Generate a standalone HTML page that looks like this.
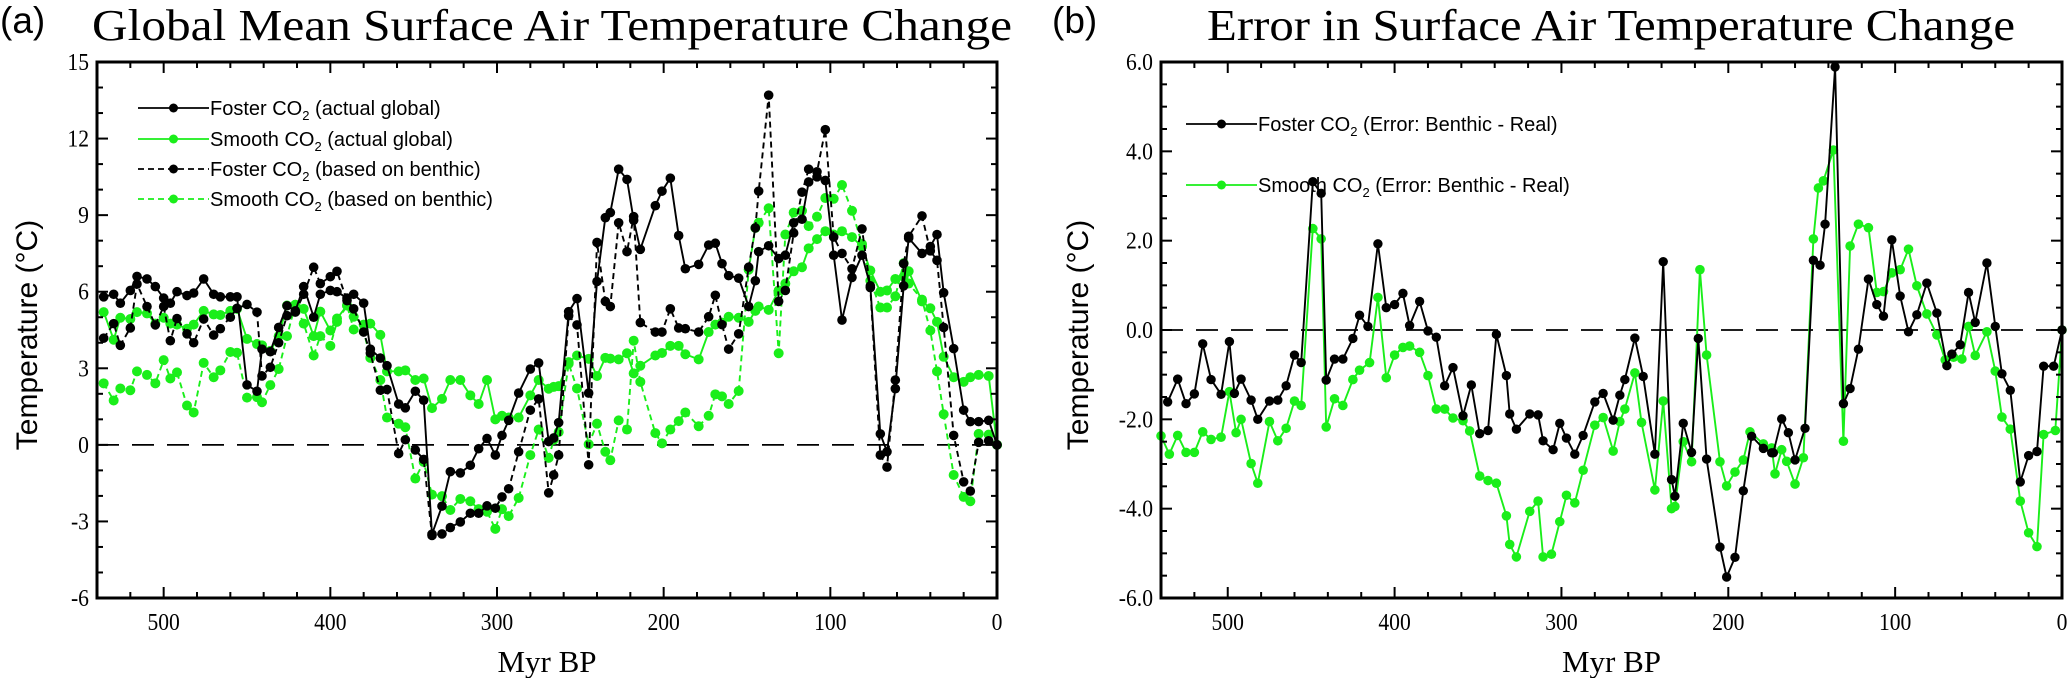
<!DOCTYPE html>
<html><head><meta charset="utf-8"><style>
html,body{margin:0;padding:0;background:#fff;}
svg{display:block;}
</style></head><body>
<svg id="fig" width="2067" height="678" xmlns="http://www.w3.org/2000/svg"></svg>
<script>
// ---------- Panel (a) data ----------
const agesA = [536,530,526,520,516,510,505,500,496,492,486,482,476,470,466,460,456,450,444,441,436,431,426,421,416,410,406,400,396,390,386,380,376,370,366,359,355,
349,344,339,333,328,322,316,311,306,301,297,293,287,280,275,269,266,263,257,252,245,240,235,232,227,222,218,214,205,201,196,191,187,179,173,
169,165,161,155,149,145,143,137,131,127,122,117,113,108,103,98,93,87,81,76,70,66,61,56,53,45,40,36,32,26,20,16,11,5,0];
const fosterActual = [5.8,5.9,5.55,6.05,6.6,6.5,6.2,5.75,5.55,6.0,5.85,5.95,6.5,5.9,5.8,5.8,5.8,2.35,2.1,3.75,3.65,4.6,5.45,5.25,6.2,5.0,5.9,6.05,6.0,5.75,5.9,5.55,3.75,3.4,3.1,1.6,1.45,
2.1,1.75,-3.5,-2.4,-1.05,-1.1,-0.8,-0.15,0.25,-0.4,0.37,0.96,2.03,2.97,3.21,0.13,0.27,0.87,5.22,5.73,2.03,6.4,8.9,9.1,10.8,10.4,8.8,7.66,9.37,9.94,10.45,8.2,6.9,7.07,7.83,
7.9,7.1,6.63,6.53,5.42,6.43,7.57,7.8,7.3,7.43,8.7,8.84,10.3,10.5,10.36,7.43,4.89,6.56,7.43,6.23,0.43,-0.27,2.2,6.23,8.1,7.5,7.77,8.24,5.96,3.77,1.36,0.91,0.91,0.96,0];
const smoothActual = [5.2,4.12,4.98,4.93,5.2,5.15,4.75,4.98,4.75,4.71,4.55,4.71,5.25,5.11,5.09,5.25,5.33,4.15,3.95,3.9,3.68,4.26,5.46,5.49,5.33,4.26,5.22,4.48,4.95,5.46,5.02,4.71,4.75,4.31,2.88,2.88,2.92,
2.54,2.6,1.44,1.8,2.54,2.54,1.94,1.6,2.54,1.0,1.14,1.07,1.07,1.94,2.54,2.2,2.27,2.3,3.24,3.5,3.37,2.7,3.41,3.38,3.35,3.59,2.8,3.1,3.5,3.6,3.88,3.88,3.55,3.35,4.42,
4.71,4.79,5.02,4.98,4.82,5.25,5.42,5.29,6.05,6.32,6.8,6.96,7.7,8.06,8.37,8.24,8.37,8.14,7.77,6.83,6.0,6.05,6.5,6.59,6.8,5.62,5.35,4.82,3.45,2.65,2.47,2.65,2.74,2.7,0];
const fosterBenthic = [4.18,4.75,3.9,4.58,6.3,5.42,4.7,5.42,4.08,4.95,4.35,4.0,4.93,4.3,4.55,5.0,5.35,5.5,5.2,2.7,3.04,4.0,5.06,5.2,5.9,6.96,6.32,6.59,6.8,5.65,5.33,4.42,3.6,2.14,2.17,-0.34,0.2,
-0.2,-0.57,-3.55,-3.49,-3.24,-3.02,-2.68,-2.68,-2.39,-2.48,-2.04,-1.72,-0.27,1.36,1.8,-1.88,-1.18,-0.4,5.06,4.7,-0.78,7.93,5.62,5.42,8.7,7.57,8.94,4.79,4.42,4.42,5.33,4.58,4.55,4.42,5.02,
5.86,4.71,3.75,4.35,6.96,8.5,9.94,13.7,5.62,6.05,8.3,9.9,10.8,10.7,12.35,8.14,7.5,6.9,8.46,6.16,-0.4,-0.87,2.54,7.1,8.17,8.97,7.6,7.23,4.6,0.37,-1.45,-1.81,0.1,0.16,0];
const smoothBenthic = [2.41,1.74,2.21,2.14,2.88,2.74,2.41,3.32,2.6,2.84,1.54,1.27,3.21,2.65,2.92,3.64,3.61,1.85,1.87,1.67,2.34,2.97,4.26,5.49,4.75,3.5,4.26,3.88,4.82,5.46,4.52,4.44,3.41,2.54,1.07,0.83,0.69,
-1.32,-0.67,-1.95,-2.01,-2.55,-2.12,-2.21,-2.52,-2.62,-3.29,-2.52,-2.79,-2.08,-0.4,0.6,-0.51,0.2,0.5,3.18,2.21,0.02,0.83,-0.27,-0.6,0.96,0.6,4.08,2.47,0.46,0.06,0.6,0.93,1.27,0.73,1.14,
1.98,1.9,1.6,2.11,6.86,8.5,8.7,9.27,3.59,8.24,9.1,9.17,8.57,8.94,9.67,9.64,10.18,9.17,7.87,6.43,5.38,5.38,5.82,7.12,6.32,5.69,4.48,2.88,1.2,-1.18,-2.04,-2.21,0.43,0.4,0];
const yTicksA = [-6,-3,0,3,6,9,12,15];
const yTickLabelsA = ["-6","-3","0","3","6","9","12","15"];
const xTicks = [500,400,300,200,100,0];
const xTickLabels = ["500","400","300","200","100","0"];

// ---------- Panel (b) data ----------
const agesFosterErr = [536,530,525,520,515,510,504,499,496,492,486,482,475,470,465,460,456,449,444,441,436,431,425,421,416,410,405,400,395,391,385,380,375,370,365,359,354,
349,344,339,333,331,327,319,314,311,305,301,297,292,287,280,275,269,265,262,256,251,244,239,234,232,227,222,218,213,205,201,196,191,186,179,174,
173,168,164,160,154,149,145,142,136,131,127,122,116,111,107,102,97,92,87,81,75,69,66,61,56,52,45,40,36,31,25,20,15,11,5,0];
const fosterErr = [-1.61,-1.1,-1.65,-1.43,-0.31,-1.11,-1.44,-0.26,-1.42,-1.1,-1.57,-2.0,-1.59,-1.57,-1.25,-0.56,-0.73,3.32,3.06,-1.12,-0.65,-0.65,-0.19,0.33,0.08,1.93,0.5,0.57,0.82,0.1,0.64,-0.02,-0.16,-1.25,-0.84,-1.92,-1.23,
-2.32,-2.25,-0.1,-1.02,-1.88,-2.22,-1.88,-1.9,-2.48,-2.68,-2.09,-2.42,-2.78,-2.36,-1.61,-1.42,-2.02,-1.46,-1.11,-0.18,-1.04,-2.78,1.53,-3.35,-3.72,-2.09,-2.74,-0.19,-2.89,-4.86,-5.53,-5.09,-3.6,-2.38,-2.65,-2.75,
-2.75,-1.99,-2.3,-2.91,-2.2,1.56,1.45,2.37,5.89,-1.65,-1.31,-0.43,1.14,0.57,0.31,2.02,0.76,-0.04,0.34,1.05,0.38,-0.8,-0.54,-0.33,0.84,0.17,1.5,0.08,-0.98,-1.35,-3.4,-2.81,-2.72,-0.81,-0.81,0];
const agesSmoothErr = [540,535,530,525,520,515,510,504,499,495,492,486,482,475,470,465,460,456,449,444,441,436,431,425,421,415,410,405,400,395,391,385,380,375,370,365,359,355,
349,344,339,333,331,327,319,314,311,306,301,297,292,287,280,275,269,265,262,256,252,244,239,234,232,227,222,217,213,205,201,196,191,187,179,174,
172,168,165,160,155,149,146,143,137,131,127,122,116,111,107,102,97,92,87,81,75,70,65,60,56,52,45,40,36,31,25,20,15,11,4,0];
const smoothErr = [-2.37,-2.78,-2.36,-2.74,-2.74,-2.28,-2.45,-2.4,-1.38,-2.3,-2.0,-2.99,-3.43,-2.05,-2.48,-2.2,-1.59,-1.69,2.27,2.04,-2.17,-1.54,-1.69,-1.11,-0.9,-0.73,0.73,-1.07,-0.56,-0.39,-0.36,-0.5,-1.02,-1.77,-1.77,-1.97,-2.03,-2.26,
-3.27,-3.37,-3.43,-4.16,-4.8,-5.08,-4.06,-3.83,-5.08,-5.02,-4.29,-3.7,-3.87,-3.14,-2.13,-1.96,-2.71,-2.05,-1.77,-0.96,-2.07,-3.58,-1.59,-4.0,-3.95,-2.5,-2.95,1.35,-0.56,-2.95,-3.49,-3.18,-2.91,-2.28,-2.55,-2.64,
-3.22,-2.68,-2.94,-3.45,-2.86,2.04,3.18,3.34,4.03,-2.49,1.88,2.37,2.29,0.84,0.86,1.28,1.35,1.81,0.99,0.36,-0.11,-0.67,-0.61,-0.65,0.08,-0.57,-0.04,-0.92,-1.95,-2.22,-3.83,-4.54,-4.85,-2.34,-2.25,0];
const yTicksB = [-6,-4,-2,0,2,4,6];
const yTickLabelsB = ["-6.0","-4.0","-2.0","0.0","2.0","4.0","6.0"];

// ---------- drawing ----------
const NS = "http://www.w3.org/2000/svg";
const svg = document.getElementById('fig');
function mk(tag, attrs, parent){
  const e = document.createElementNS(NS, tag);
  for (const k in attrs) e.setAttribute(k, attrs[k]);
  (parent||svg).appendChild(e);
  return e;
}
const GREEN = "#1aee1a";

function panel(cfg){
  const g = mk('g', {});
  
  
  const L=cfg.L, R=cfg.R, T=62, B=598;
  const xs = v => L + (540 - v) / 540 * (R - L);
  const ys = v => B - (v - cfg.ymin) / (cfg.ymax - cfg.ymin) * (B - T);
  const z = mk('line', {x1:L, x2:R, y1:ys(0), y2:ys(0), stroke:'#000', 'stroke-width':1.7, 'stroke-dasharray':'22,13'}, g);
  
  
  cfg.series.forEach(s => {
    const sg = mk('g', {}, g);
    
    
    const pts = s.ages.map((a,i)=> xs(a).toFixed(1)+','+ys(s.vals[i]).toFixed(1)).join(' ');
    const pl = mk('polyline', {points:pts, fill:'none', stroke:s.color, 'stroke-width':1.9, 'stroke-dasharray':s.dash||'none'}, sg);
    
    
    s.ages.forEach((a,i)=>{
      const c = mk('circle', {cx:xs(a), cy:ys(s.vals[i]), r:s.r, fill:s.color}, sg);
      
      
    });
  });
  const fr = mk('rect', {x:L, y:T, width:R-L, height:B-T, fill:'none', stroke:'#000', 'stroke-width':3}, g);
  
  
  for (let v=540; v>=0; v-=20){
    const major = v % 100 === 0;
    const len = major ? 11 : 6;
    mk('line', {x1:xs(v), x2:xs(v), y1:B, y2:B-len, stroke:'#000', 'stroke-width':2}, g);
    mk('line', {x1:xs(v), x2:xs(v), y1:T, y2:T+len, stroke:'#000', 'stroke-width':2}, g);
  }
  xTicks.forEach((v,i)=>{
    const t = mk('text', {x:xs(v), y:630, 'text-anchor':'middle', 'font-family':'Liberation Serif, serif', 'font-size':24, transform:`translate(${xs(v)*0.1},0) scale(0.9,1)`}, g);
    t.textContent = xTickLabels[i];
    
    
  });
  for (let v=cfg.ymin; v<=cfg.ymax+1e-9; v+=cfg.minor){
    const major = Math.abs(Math.round(v/cfg.major)*cfg.major - v) < 1e-6;
    const len = major ? 11 : 6;
    mk('line', {x1:L, x2:L+len, y1:ys(v), y2:ys(v), stroke:'#000', 'stroke-width':2}, g);
    mk('line', {x1:R, x2:R-len, y1:ys(v), y2:ys(v), stroke:'#000', 'stroke-width':2}, g);
  }
  cfg.yt.forEach((v,i)=>{
    const t = mk('text', {x:L-8, y:ys(v)+8, 'text-anchor':'end', 'font-family':'Liberation Serif, serif', 'font-size':24, transform:`translate(${(L-8)*0.1},0) scale(0.9,1)`}, g);
    t.textContent = cfg.ytl[i];
    
    
  });
  const xt = mk('text', {x:(L+R)/2, y:672, 'text-anchor':'middle', 'font-family':'Liberation Serif, serif', 'font-size':31}, g);
  xt.textContent = 'Myr BP';
  
  
  const yt = mk('text', {x:0, y:0, 'text-anchor':'middle', 'font-family':'Liberation Sans, sans-serif', 'font-size':30, transform:`translate(${cfg.ylabX},335) rotate(-90)`}, g);
  yt.textContent = 'Temperature (°C)';
  
  
  const pl = mk('text', {x:cfg.letterX, y:33, 'font-family':'Liberation Sans, sans-serif', 'font-size':37}, g);
  pl.textContent = cfg.letter;
  
  
  const tt = mk('text', {x:cfg.titleX, y:40, 'font-family':'Liberation Serif, serif', 'font-size':44, textLength:cfg.titleW, lengthAdjust:'spacingAndGlyphs'}, g);
  tt.textContent = cfg.title;
  
  
  const lg = mk('g', {}, g);
  
  
  cfg.legend.forEach(e=>{
    const eg = mk('g', {}, lg);
    
    
    mk('line', {x1:e.x1, x2:e.x2, y1:e.y, y2:e.y, stroke:e.color, 'stroke-width':1.8, 'stroke-dasharray':e.dash||'none'}, eg);
    mk('circle', {cx:(e.x1+e.x2)/2, cy:e.y, r:e.r, fill:e.color}, eg);
    const t = mk('text', {x:e.x2+1, y:e.y+7, 'font-family':'Liberation Sans, sans-serif', 'font-size':20}, eg);
    const a = document.createElementNS(NS,'tspan'); a.textContent = e.pre; t.appendChild(a);
    const b = document.createElementNS(NS,'tspan'); b.textContent = '2'; b.setAttribute('font-size','13'); b.setAttribute('dy','5'); t.appendChild(b);
    const c = document.createElementNS(NS,'tspan'); c.textContent = e.post; c.setAttribute('dy','-5'); t.appendChild(c);
  });
}

panel({name:'panel-a-global-mean', L:97, R:997, ymin:-6, ymax:15, minor:1, major:3,
  yt:yTicksA, ytl:yTickLabelsA, ylabX:37, letter:'(a)', letterX:0, title:'Global Mean Surface Air Temperature Change', titleX:92, titleW:920,
  series:[
    {name:'smooth-benthic', ages:agesA, vals:smoothBenthic, color:GREEN, dash:'6,4', r:5},
    {name:'smooth-actual', ages:agesA, vals:smoothActual, color:GREEN, r:5},
    {name:'foster-benthic', ages:agesA, vals:fosterBenthic, color:'#000', dash:'6,4', r:4.8},
    {name:'foster-actual', ages:agesA, vals:fosterActual, color:'#000', r:4.8},
  ],
  legend:[
    {x1:138,x2:209,y:108,color:'#000',r:4.5,pre:'Foster CO',post:' (actual global)'},
    {x1:138,x2:209,y:139,color:GREEN,r:4.5,pre:'Smooth CO',post:' (actual global)'},
    {x1:138,x2:209,y:169,color:'#000',r:4.5,dash:'6,4',pre:'Foster CO',post:' (based on benthic)'},
    {x1:138,x2:209,y:199,color:GREEN,r:4.5,dash:'6,4',pre:'Smooth CO',post:' (based on benthic)'},
  ]});

panel({name:'panel-b-error', L:1161, R:2062, ymin:-6, ymax:6, minor:0.5, major:2,
  yt:yTicksB, ytl:yTickLabelsB, ylabX:1088, letter:'(b)', letterX:1052, title:'Error in Surface Air Temperature Change', titleX:1207, titleW:808,
  series:[
    {name:'smooth-error', ages:agesSmoothErr, vals:smoothErr, color:GREEN, r:4.8},
    {name:'foster-error', ages:agesFosterErr, vals:fosterErr, color:'#000', r:4.7},
  ],
  legend:[
    {x1:1186,x2:1257,y:124,color:'#000',r:4.5,pre:'Foster CO',post:' (Error: Benthic - Real)'},
    {x1:1186,x2:1257,y:185,color:GREEN,r:4.5,pre:'Smooth CO',post:' (Error: Benthic - Real)'},
  ]});
</script>
</body></html>
